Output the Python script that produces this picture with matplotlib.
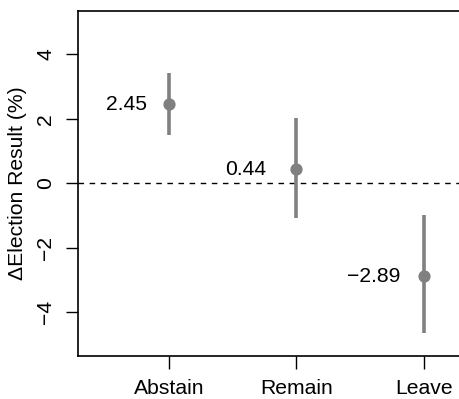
import matplotlib
matplotlib.use("Agg")
import matplotlib.pyplot as plt

categories = ["Abstain", "Remain", "Leave"]
estimates = [2.45, 0.44, -2.89]
lower = [1.49, -1.07, -4.66]
upper = [3.41, 2.04, -0.99]
labels = ["2.45", "0.44", "\u22122.89"]
yticks = [-4, -2, 0, 2, 4]

plt.rcParams['font.family'] = ['Liberation Sans', 'DejaVu Sans']
plt.rcParams['axes.unicode_minus'] = True

W, H, DPI = 459, 399, 100
FS = 15.2
fig = plt.figure(figsize=(W / DPI, H / DPI), dpi=DPI)
left = 78 / W
right = 514.7 / W
bottom = 1 - 355.7 / H
top = 1 - 10.7 / H
ax = fig.add_axes([left, bottom, right - left, top - bottom])

xs = list(range(1, len(categories) + 1))
grey = "#808080"
ax.axhline(0, color="black", lw=1.0, ls=(0, (4, 4)), zorder=1)
ax.vlines(xs, lower, upper, color=grey, lw=2.6, zorder=2)
ax.plot(xs, estimates, "o", color=grey, ms=7.8, zorder=3)

label_offsets_px = [-42.7, -51.0, -50.5]
for x, y, lab, off in zip(xs, estimates, labels, label_offsets_px):
    ax.annotate(lab, (x, y), xytext=(off * 72 / DPI, 0), textcoords="offset points",
                ha="center", va="center", fontsize=FS)

ax.set_xlim(0.286, 3.714)
ax.set_ylim(-5.36, 5.36)
ax.set_xticks(xs)
ax.set_xticklabels(categories, fontsize=FS)
ax.set_yticks(yticks)
ax.set_yticklabels([str(t).replace("-", "\u2212") for t in yticks], fontsize=FS,
                   rotation=90, va="center")
ax.tick_params(axis="both", direction="out", length=9, width=1.0, pad=7.2)
ax.tick_params(axis="x", pad=7.5)
ax.set_ylabel("\u0394Election Result (%)", fontsize=FS, labelpad=7)
for s in ax.spines.values():
    s.set_linewidth(1.2)

fig.savefig("out.png", dpi=DPI)
